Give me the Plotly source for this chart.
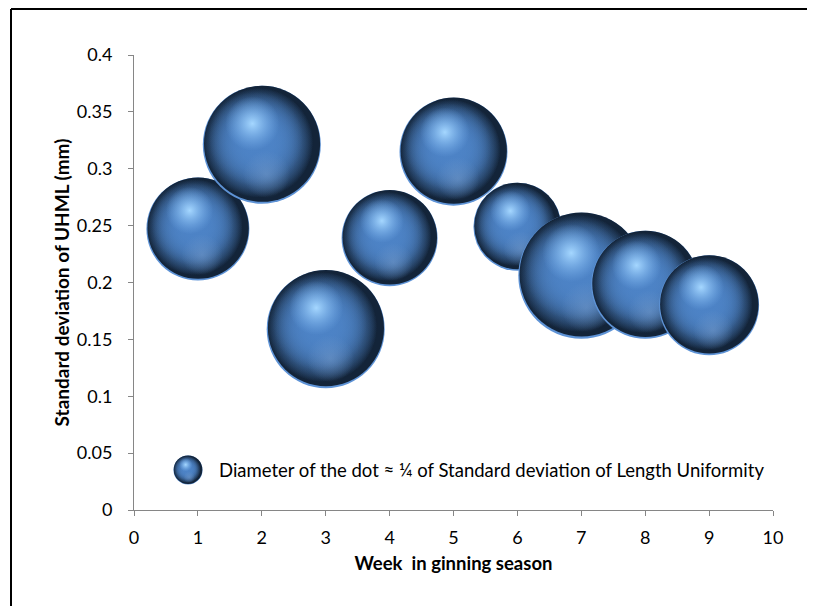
import plotly.graph_objects as go

# ---------------- data ----------------
weeks = [1, 2, 3, 4, 5, 6, 7, 8, 9]
sd_uhml = [0.247, 0.321, 0.159, 0.239, 0.315, 0.249, 0.206, 0.198, 0.180]
# dot diameter (proportional to SD of Length Uniformity)
dot_diam = [103, 118, 118, 96, 108, 88, 126, 108, 100]

x_tick_vals = list(range(0, 11))
y_tick_vals = [0, 0.05, 0.1, 0.15, 0.2, 0.25, 0.3, 0.35, 0.4]
y_tick_text = ["0", "0.05", "0.1", "0.15", "0.2", "0.25", "0.3", "0.35", "0.4"]

legend_text = "Diameter of the dot \u2248 \u00bc of Standard deviation of Length Uniformity"
x_title = "Week  in ginning season"
y_title = "Standard deviation of UHML (mm)"

# ---------------- layout geometry ----------------
W, H = 807, 598
ML, MR, MT, MB = 126, 42, 47, 96
PW, PH = W - ML - MR, H - MT - MB
X_RANGE = [0, 10]
Y_RANGE = [0, 0.4]
FONT = "Lato"

fig = go.Figure()


def add_sphere(x, y, d, ppx, ppy, xa="x", ya="y"):
    """Draw a shaded sphere from several layered gradient markers."""
    def off(fx, fy):
        return x + fx * d / ppx, y - fy * d / ppy

    body = "rgba(77,131,198,1)"
    body0 = "rgba(77,131,198,0)"
    layers = [
        # light rim (shows along the bottom edge)
        dict(fx=0, fy=0, s=1.0, color="#5e93d6", grad=None),
        # dark shell
        dict(fx=0.002, fy=-0.009, s=0.984, color="#132439", grad=None),
        # body colour: stacked soft discs shifted to the upper left
        dict(fx=-0.03, fy=-0.018, s=0.93, color=body0, grad=body),
        dict(fx=-0.03, fy=-0.018, s=0.93, color=body0, grad=body),
        dict(fx=-0.03, fy=-0.018, s=0.93, color=body0, grad=body),
        dict(fx=-0.05, fy=-0.05, s=0.8, color=body0, grad=body),
        # faint lower reflection
        dict(fx=0.04, fy=0.25, s=0.40, color="rgba(115,155,205,0)", grad="rgba(115,155,205,0.55)"),
        # specular highlight
        dict(fx=-0.08, fy=-0.18, s=0.46, color="rgba(125,182,242,0)", grad="rgba(165,215,255,1)"),
    ]
    for L in layers:
        px, py = off(L["fx"], L["fy"])
        marker = dict(size=d * L["s"], color=L["color"], line=dict(width=0), opacity=1)
        if L["grad"] is not None:
            marker["gradient"] = dict(type="radial", color=L["grad"])
        fig.add_trace(go.Scatter(
            x=[px], y=[py], mode="markers", marker=marker,
            xaxis=xa, yaxis=ya, hoverinfo="skip", showlegend=False,
        ))


ppx = PW / (X_RANGE[1] - X_RANGE[0])
ppy = PH / (Y_RANGE[1] - Y_RANGE[0])
for wx, sy, dd in zip(weeks, sd_uhml, dot_diam):
    add_sphere(wx, sy, dd, ppx, ppy)

# legend glyph on an invisible overlay axis (0..1 in both directions)
LEG_X, LEG_Y, LEG_D = 0.0845, 0.088, 29
add_sphere(LEG_X, LEG_Y, LEG_D, PW, PH, xa="x2", ya="y2")

axis_line = "#868686"
frame = dict(color="#000000", width=2)
fig.update_layout(
    width=W, height=H,
    margin=dict(l=ML, r=MR, t=MT, b=MB, pad=0),
    paper_bgcolor="white", plot_bgcolor="white",
    font=dict(family=FONT, color="#000000"),
    showlegend=False,
    xaxis=dict(
        range=X_RANGE, tickvals=x_tick_vals, ticks="outside", ticklen=5,
        tickcolor=axis_line, showline=True, linecolor=axis_line, linewidth=1,
        showgrid=False, zeroline=False, tickfont=dict(size=18, family=FONT),
        ticklabelstandoff=6,
        title=dict(text="<b>" + x_title + "</b>", font=dict(size=18.5, family=FONT), standoff=10),
        fixedrange=True,
    ),
    yaxis=dict(
        range=Y_RANGE, tickvals=y_tick_vals, ticktext=y_tick_text, ticks="outside",
        ticklen=5, tickcolor=axis_line, showline=True, linecolor=axis_line, linewidth=1,
        showgrid=False, zeroline=False, tickfont=dict(size=18, family=FONT),
        ticklabelstandoff=12,
        title=dict(text="<b>" + y_title + "</b>", font=dict(size=19, family=FONT), standoff=2),
        fixedrange=True,
    ),
    xaxis2=dict(range=[0, 1], overlaying="x", visible=False, fixedrange=True),
    yaxis2=dict(range=[0, 1], overlaying="y", visible=False, fixedrange=True),
    annotations=[dict(
        text=legend_text, xref="paper", yref="paper", x=0.13, y=LEG_Y,
        xanchor="left", yanchor="middle", showarrow=False,
        font=dict(size=18.5, family=FONT, color="#000000"),
    )],
    shapes=[
        # left edge of the outer frame
        dict(type="line", xref="paper", yref="paper",
             x0=(3 - ML) / PW, x1=(3 - ML) / PW, y0=-MB / PH, y1=(H - MB - 1) / PH,
             line=frame, layer="below"),
        # top edge of the outer frame
        dict(type="line", xref="paper", yref="paper",
             x0=(3 - ML) / PW, x1=(W - ML) / PW, y0=(H - MB - 1) / PH, y1=(H - MB - 1) / PH,
             line=frame, layer="below"),
    ],
)

fig.write_html("out.html")
